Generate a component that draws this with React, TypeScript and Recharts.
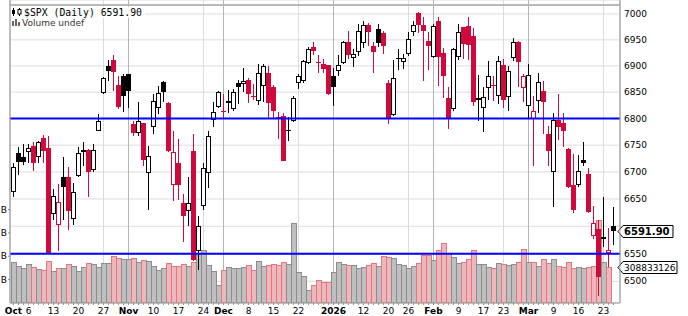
import React from "react";
import { ComposedChart, Bar, XAxis, YAxis, CartesianGrid, ReferenceLine } from "recharts";

// trading days per month (Oct 2025 .. Mar 2026)
const octDays = [1, 2, 3, 6, 7, 8, 9, 10, 13, 14, 15, 16, 17, 20, 21, 22, 23, 24, 27, 28, 29, 30, 31];
const novDays = [3, 4, 5, 6, 7, 10, 11, 12, 13, 14, 17, 18, 19, 20, 21, 24, 25, 26, 28];
const decDays = [1, 2, 3, 4, 5, 8, 9, 10, 11, 12, 15, 16, 17, 18, 19, 22, 23, 24, 26, 29, 30, 31];
const janDays = [2, 5, 6, 7, 8, 9, 12, 13, 14, 15, 16, 20, 21, 22, 23, 26, 27, 28, 29, 30];
const febDays = [2, 3, 4, 5, 6, 9, 10, 11, 12, 13, 17, 18, 19, 20, 23, 24, 25, 26, 27];
const marDays = [2, 3, 4, 5, 6, 9, 10, 11, 12, 13, 16, 17, 18, 19, 20, 23, 24, 25];

const opens = [
  6663, 6735, 6727, 6737, 6748, 6727, 6764, 6745, 6623, 6603,
  6690, 6690, 6614, 6692, 6741, 6741, 6703, 6777, 6848, 6899,
  6911, 6863, 6880, 6884, 6790, 6773, 6791, 6698, 6785, 6820,
  6869, 6830, 6675, 6716, 6643, 6627, 6739, 6554, 6637, 6698,
  6797, 6822, 6814, 6833, 6818, 6868, 6866, 6874, 6843, 6833,
  6861, 6887, 6859, 6803, 6804, 6779, 6796, 6868, 6872, 6906,
  6936, 6907, 6903, 6901, 6880, 6891, 6906, 6946, 6916, 6927,
  6944, 6979, 6939, 6971, 6964, 6867, 6806, 6916, 6908, 6923,
  6965, 7002, 6978, 6948, 6917, 6987, 6925, 6839, 6818, 6917,
  6975, 6977, 6958, 6838, 6820, 6857, 6864, 6842, 6902, 6840,
  6916, 6946, 6857, 6823, 6800, 6833, 6853, 6771, 6700, 6797,
  6791, 6743, 6675, 6675, 6723, 6697, 6582, 6595, 6576, 6552,
  6600,
];
const highs = [
  6716, 6746, 6753, 6753, 6756, 6758, 6769, 6767, 6669, 6678,
  6727, 6709, 6680, 6747, 6756, 6743, 6752, 6809, 6878, 6912,
  6921, 6880, 6884, 6885, 6796, 6831, 6792, 6748, 6846, 6861,
  6871, 6832, 6776, 6761, 6660, 6690, 6771, 6618, 6716, 6776,
  6831, 6852, 6846, 6854, 6855, 6874, 6896, 6877, 6866, 6903,
  6904, 6900, 6863, 6813, 6811, 6802, 6843, 6884, 6912, 6936,
  6946, 6921, 6914, 6902, 6896, 6921, 6948, 6967, 6933, 6981,
  6986, 6983, 6946, 6981, 6967, 6873, 6912, 6933, 6923, 6965,
  6986, 7004, 6994, 6965, 6981, 6994, 6935, 6860, 6935, 6981,
  6975, 6994, 6973, 6883, 6860, 6910, 6880, 6918, 6914, 6900,
  6954, 6948, 6884, 6903, 6842, 6887, 6872, 6786, 6811, 6847,
  6811, 6744, 6734, 6731, 6756, 6707, 6638, 6612, 6653, 6596,
  6635,
];
const lows = [
  6654, 6694, 6713, 6716, 6701, 6716, 6716, 6551, 6612, 6554,
  6612, 6594, 6603, 6690, 6712, 6654, 6700, 6776, 6846, 6871,
  6852, 6818, 6813, 6820, 6768, 6767, 6711, 6630, 6771, 6808,
  6831, 6737, 6646, 6649, 6572, 6600, 6536, 6521, 6630, 6670,
  6784, 6820, 6800, 6810, 6814, 6827, 6851, 6829, 6836, 6826,
  6831, 6800, 6800, 6761, 6720, 6757, 6794, 6856, 6868, 6904,
  6921, 6887, 6887, 6844, 6823, 6881, 6904, 6914, 6898, 6918,
  6935, 6939, 6887, 6937, 6923, 6789, 6804, 6893, 6895, 6918,
  6958, 6963, 6871, 6893, 6915, 6861, 6839, 6780, 6815, 6912,
  6914, 6912, 6823, 6795, 6774, 6836, 6833, 6827, 6819, 6815,
  6910, 6859, 6831, 6800, 6711, 6811, 6771, 6711, 6636, 6759,
  6746, 6670, 6624, 6672, 6711, 6625, 6577, 6473, 6563, 6525,
  6566,
];
const closes = [
  6710, 6718, 6719, 6745, 6716, 6756, 6740, 6552, 6655, 6645,
  6672, 6627, 6662, 6736, 6737, 6700, 6741, 6795, 6876, 6890,
  6889, 6822, 6843, 6852, 6773, 6796, 6722, 6730, 6833, 6849,
  6851, 6739, 6737, 6675, 6619, 6643, 6539, 6601, 6707, 6767,
  6813, 6850, 6812, 6829, 6851, 6859, 6871, 6847, 6841, 6887,
  6900, 6829, 6815, 6801, 6721, 6776, 6838, 6881, 6910, 6932,
  6929, 6905, 6895, 6846, 6859, 6902, 6946, 6920, 6923, 6967,
  6979, 6965, 6927, 6944, 6939, 6800, 6876, 6914, 6916, 6952,
  6979, 6978, 6967, 6938, 6977, 6917, 6881, 6800, 6933, 6965,
  6942, 6941, 6832, 6836, 6841, 6880, 6862, 6910, 6836, 6891,
  6946, 6908, 6880, 6882, 6815, 6869, 6831, 6739, 6797, 6784,
  6776, 6672, 6630, 6701, 6716, 6626, 6606, 6507, 6581, 6556,
  6591.9,
];
// volume in millions (last session not yet reported)
const volumes: (number | null)[] = [
  348, 319, 302, 331, 311, 288, 280, 359, 274, 297,
  297, 331, 317, 274, 311, 345, 331, 311, 340, 342,
  402, 388, 377, 377, 388, 348, 368, 359, 317, 282,
  297, 340, 317, 317, 331, 317, 348, 422, 454, 325,
  274, 154, 282, 305, 297, 297, 311, 325, 282, 359,
  317, 325, 334, 325, 348, 334, 682, 263, 231, 111,
  154, 197, 177, 177, 263, 348, 331, 325, 325, 297,
  305, 325, 340, 317, 402, 391, 382, 334, 325, 297,
  319, 340, 411, 411, 368, 454, 511, 430, 391, 340,
  348, 377, 454, 334, 331, 305, 297, 340, 331, 325,
  331, 348, 460, 348, 353, 319, 374, 340, 374, 317,
  305, 348, 297, 305, 297, 311, 319, 710, 348, 308.833126,
  null,
];
const closeBeforeStart = 6688;

const monthGrid = ["2025-10-01", "2025-11-03", "2025-12-01", "2026-01-02", "2026-02-02", "2026-03-02"];
const monthText = ["Oct", "Nov", "Dec", "2026", "Feb", "Mar"];
const weekGrid = [
  "2025-10-06", "2025-10-13", "2025-10-20", "2025-10-27", "2025-11-10", "2025-11-17", "2025-11-24",
  "2025-12-08", "2025-12-15", "2025-12-22", "2026-01-12", "2026-01-20", "2026-01-26", "2026-02-09",
  "2026-02-17", "2026-02-23", "2026-03-09", "2026-03-16", "2026-03-23",
];
const priceTicks = [6500, 6550, 6600, 6650, 6700, 6750, 6800, 6850, 6900, 6950, 7000];
const volTicks = [200, 400, 600, 800];
const levels = [6800, 6550];

const RED = "#d0083c";
const pad = (n: number) => (n < 10 ? "0" + n : "" + n);
const dates = [
  ...octDays.map((d) => `2025-10-${pad(d)}`),
  ...novDays.map((d) => `2025-11-${pad(d)}`),
  ...decDays.map((d) => `2025-12-${pad(d)}`),
  ...janDays.map((d) => `2026-01-${pad(d)}`),
  ...febDays.map((d) => `2026-02-${pad(d)}`),
  ...marDays.map((d) => `2026-03-${pad(d)}`),
];

const rows = dates.map((date, i) => ({
  date,
  range: [lows[i], highs[i]],
  open: opens[i],
  high: highs[i],
  low: lows[i],
  close: closes[i],
  prev: i === 0 ? closeBeforeStart : closes[i - 1],
  vol: volumes[i],
}));

const lastClose = closes[closes.length - 1];
const lastVol = [...volumes].reverse().find((v) => v != null) as number;

const Candle = (props: any) => {
  const { x, y, width, height, payload } = props;
  if (payload == null || x == null || y == null) return null;
  const { open, high, low, close, prev } = payload;
  const span = Math.log(high / low) || 1;
  const py = (v: number) => y + (height * Math.log(high / v)) / span;
  const cx = x + width / 2;
  const color = close < prev ? RED : "#000";
  const top = Math.round(py(Math.max(open, close)));
  const bot = Math.round(py(Math.min(open, close)));
  return (
    <g>
      <line x1={cx} x2={cx} y1={Math.round(y)} y2={Math.round(y + height)} stroke={color} strokeWidth={1} />
      {close > open ? (
        <rect x={cx - 2} y={top + 0.5} width={4} height={Math.max(bot - top - 1, 1)} fill="#fff" stroke={color} strokeWidth={1} />
      ) : (
        <rect x={cx - 2.5} y={top} width={5} height={Math.max(bot - top, 1)} fill={color} />
      )}
    </g>
  );
};

const VolumeBar = (props: any) => {
  const { x, y, width, height, payload } = props;
  if (payload == null || !height || height <= 0) return null;
  const down = payload.close < payload.prev;
  const top = Math.round(y) + 0.5;
  return (
    <rect
      x={x + 0.5}
      y={top}
      width={width}
      height={y + height - top}
      fill={down ? "#ecb8bc" : "#bfbfbf"}
      stroke={down ? "#e27780" : "#8d8d8d"}
      strokeWidth={1}
    />
  );
};

const DateTick = (props: any) => {
  const { x, y, payload } = props;
  const mi = monthGrid.indexOf(payload.value);
  let text = "";
  if (mi >= 0) text = monthText[mi];
  else if (weekGrid.includes(payload.value)) text = String(Number(payload.value.slice(8)));
  if (!text) return <g />;
  return (
    <text
      x={Number(x)}
      y={Number(y)}
      dy={6.5}
      textAnchor="middle"
      fontSize={9}
      fontFamily="DejaVu Sans"
      fontWeight={mi >= 0 ? "bold" : "normal"}
      fill="#000"
    >
      {text}
    </text>
  );
};

const PriceTick = (props: any) => {
  const { x, y, payload } = props;
  if (Math.abs(payload.value - lastClose) < 15) return <g />;
  return (
    <text x={x} y={y + 3} fontSize={9} fontFamily="DejaVu Sans" fill="#000">
      {payload.value}
    </text>
  );
};

const VolTick = (props: any) => {
  const { x, y } = props;
  return (
    <text x={x + 1} y={y + 3} textAnchor="end" fontSize={9} fontFamily="DejaVu Sans" fill="#000">
      B
    </text>
  );
};

const Tag = ({ viewBox, text, bold, w }: any) => {
  if (!viewBox) return null;
  const rx = viewBox.x + viewBox.width;
  const cy = Math.round(viewBox.y) + 0.5;
  const pts = `${rx - 2},${cy} ${rx + 3},${cy - 6} ${rx + w},${cy - 6} ${rx + w},${cy + 6} ${rx + 3},${cy + 6}`;
  return (
    <g>
      <polygon points={pts} fill="#fff" stroke="#000" strokeWidth={1} />
      <text x={rx + 4} y={cy + 3.5} fontSize={bold ? 10 : 9} fontWeight={bold ? "bold" : "normal"} fontFamily="DejaVu Sans" fill="#000">
        {text}
      </text>
    </g>
  );
};

const axisPad = { left: 1, right: 4 };

export default function App() {
  return (
    <div style={{ position: "absolute", left: 0, top: 0, width: 688, height: 316, background: "#fff" }}>
      <ComposedChart width={688} height={316} data={rows} margin={{ top: 0, right: 0, bottom: 0, left: 0 }} barCategoryGap={0} barGap={0}>
        <XAxis
          xAxisId="x"
          dataKey="date"
          height={13}
          interval={0}
          padding={axisPad}
          tickSize={2}
          tickMargin={2}
          tickLine={{ stroke: "#999" }}
          axisLine={{ stroke: "#999" }}
          tick={<DateTick />}
        />
        <XAxis xAxisId="wk" dataKey="date" hide height={0} ticks={weekGrid} padding={axisPad} />
        <XAxis xAxisId="mo" dataKey="date" hide height={0} ticks={monthGrid} padding={axisPad} />
        <XAxis xAxisId="vol" dataKey="date" hide height={0} padding={axisPad} />
        <YAxis
          yAxisId="vol"
          orientation="left"
          width={10}
          domain={[0, 2593]}
          ticks={volTicks}
          tickSize={2}
          tickMargin={2}
          tickLine={{ stroke: "#888" }}
          axisLine={{ stroke: "#a8a8a8" }}
          tick={<VolTick />}
          allowDataOverflow
        />
        <YAxis
          yAxisId="price"
          orientation="right"
          width={68}
          scale="log"
          domain={[6461, 7027.2]}
          allowDataOverflow
          ticks={priceTicks}
          tickSize={0}
          tickMargin={4}
          tickLine={false}
          axisLine={{ stroke: "#a8a8a8" }}
          tick={<PriceTick />}
        />
        <CartesianGrid xAxisId="wk" yAxisId="price" stroke="#dcdcdc" />
        <CartesianGrid xAxisId="mo" yAxisId="price" horizontal={false} stroke="#b4b4b4" />
        <Bar xAxisId="vol" yAxisId="vol" dataKey="vol" shape={<VolumeBar />} isAnimationActive={false} />
        <Bar xAxisId="x" yAxisId="price" dataKey="range" shape={<Candle />} isAnimationActive={false} />
        <ReferenceLine xAxisId="x" yAxisId="price" y={7017.5} stroke="#b8b8b8" strokeWidth={2} />
        {levels.map((v) => (
          <ReferenceLine key={v} xAxisId="x" yAxisId="price" y={v} stroke="#0000ff" strokeWidth={2} />
        ))}
        <ReferenceLine
          xAxisId="x"
          yAxisId="price"
          y={lastClose}
          stroke="none"
          label={<Tag text={lastClose.toFixed(2)} bold w={53} />}
        />
        <ReferenceLine
          xAxisId="vol"
          yAxisId="vol"
          y={lastVol}
          stroke="none"
          label={<Tag text={String(Math.round(lastVol * 1e6))} w={57} />}
        />
      </ComposedChart>
      <svg style={{ position: "absolute", left: 0, top: 0 }} width={160} height={30}>
        <rect x={11} y={7} width={134} height={11} fill="#fff" />
        <rect x={11} y={18} width={75} height={10} fill="#fff" />
        <line x1={13.5} x2={13.5} y1={8} y2={16} stroke="#000" />
        <rect x={12} y={10} width={3} height={4} fill="#000" />
        <line x1={19.5} x2={19.5} y1={8} y2={16} stroke="#000" />
        <rect x={18} y={9.5} width={3} height={4.5} fill="#fff" stroke="#000" />
        <rect x={12} y={21} width={2} height={5} fill="#666" />
        <rect x={15} y={19} width={2} height={7} fill="#666" />
        <rect x={18} y={22} width={2} height={4} fill="#666" />
        <text x={24} y={16} fontSize={9.8} fontFamily="DejaVu Sans Mono" fill="#000">
          {`$SPX (Daily) ${lastClose.toFixed(2)}`}
        </text>
        <text x={22} y={26} fontSize={9} fontFamily="DejaVu Sans" fill="#333">
          Volume undef
        </text>
      </svg>
    </div>
  );
}
